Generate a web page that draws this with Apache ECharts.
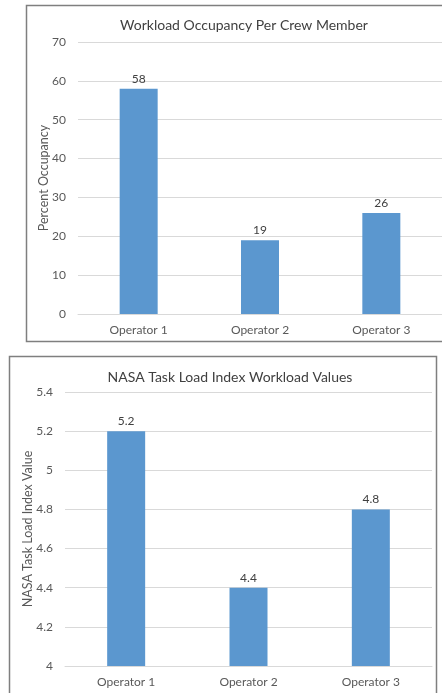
<!DOCTYPE html>
<html>
<head>
<meta charset="utf-8">
<script src="https://cdn.jsdelivr.net/npm/echarts@6/dist/echarts.min.js"></script>
<style>
  html, body { margin: 0; padding: 0; background: #fff; overflow: hidden; }
  #chart { width: 442px; height: 693px; }
</style>
</head>
<body>
<div id="chart"></div>
<script>
// Operators shared by both panels
const operators = ['Operator 1', 'Operator 2', 'Operator 3'];

// Panel 1: workload occupancy (percent)
const occupancyTitle = 'Workload Occupancy Per Crew Member';
const occupancyAxisName = 'Percent Occupancy';
const occupancyValues = [58, 19, 26];

// Panel 2: NASA TLX scores
const tlxTitle = 'NASA Task Load Index Workload Values';
const tlxAxisName = 'NASA Task Load Index Value';
const tlxValues = [5.2, 4.4, 4.8];

const FONT = 'Lato, "Open Sans", sans-serif';
const BAR = '#5b97cf';
const GRID_LINE = '#d9d9d9';
const TEXT = '#595959';

const chart = echarts.init(document.getElementById('chart'), null, { renderer: 'canvas' });

function xAxisFor(gridIndex) {
  return {
    type: 'category',
    gridIndex,
    data: operators,
    axisLine: { show: true, lineStyle: { color: GRID_LINE, width: 1 } },
    axisTick: { show: false },
    axisLabel: { color: TEXT, fontFamily: FONT, fontSize: 12, margin: 10 }
  };
}

function yAxisFor(gridIndex, name, min, max, interval, nameGap) {
  return {
    type: 'value',
    gridIndex,
    min, max, interval,
    name,
    nameLocation: 'middle',
    nameGap,
    nameMoveOverlap: false,
    nameTextStyle: { color: TEXT, fontFamily: FONT, fontSize: 12.5 },
    axisLine: { show: false },
    axisTick: { show: false },
    axisLabel: { color: TEXT, fontFamily: FONT, fontSize: 12, margin: 12 },
    splitLine: { show: true, lineStyle: { color: GRID_LINE, width: 1 } }
  };
}

function barSeries(idx, values) {
  return {
    type: 'bar',
    xAxisIndex: idx,
    yAxisIndex: idx,
    data: values,
    barWidth: 38,
    itemStyle: { color: BAR },
    label: {
      show: true,
      position: 'top',
      distance: 4,
      color: '#404040',
      fontFamily: FONT,
      fontSize: 12
    }
  };
}

const option = {
  animation: false,
  backgroundColor: '#ffffff',
  title: [
    {
      text: occupancyTitle,
      left: 239, top: 13, textAlign: 'center',
      textStyle: { color: '#404040', fontFamily: FONT, fontSize: 14, fontWeight: 'normal' }
    },
    {
      text: tlxTitle,
      left: 225, top: 365, textAlign: 'center',
      textStyle: { color: '#404040', fontFamily: FONT, fontSize: 14, fontWeight: 'normal' }
    }
  ],
  grid: [
    { left: 78, top: 42, width: 366, height: 272 },
    { left: 65, top: 392, width: 367, height: 274 }
  ],
  xAxis: [xAxisFor(0), xAxisFor(1)],
  yAxis: [
    yAxisFor(0, occupancyAxisName, 0, 70, 10, 28),
    yAxisFor(1, tlxAxisName, 4, 5.4, 0.2, 31)
  ],
  series: [barSeries(0, occupancyValues), barSeries(1, tlxValues)],
  graphic: [
    {
      type: 'rect', silent: true, z: 100,
      shape: { x: 26.5, y: 5.5, width: 440, height: 336 },
      style: { fill: 'none', stroke: '#7f7f7f', lineWidth: 1.5 }
    },
    {
      type: 'rect', silent: true, z: 100,
      shape: { x: 9.5, y: 356.5, width: 427, height: 345 },
      style: { fill: 'none', stroke: '#7f7f7f', lineWidth: 1.5 }
    }
  ]
};

chart.setOption(option);
</script>
</body>
</html>
